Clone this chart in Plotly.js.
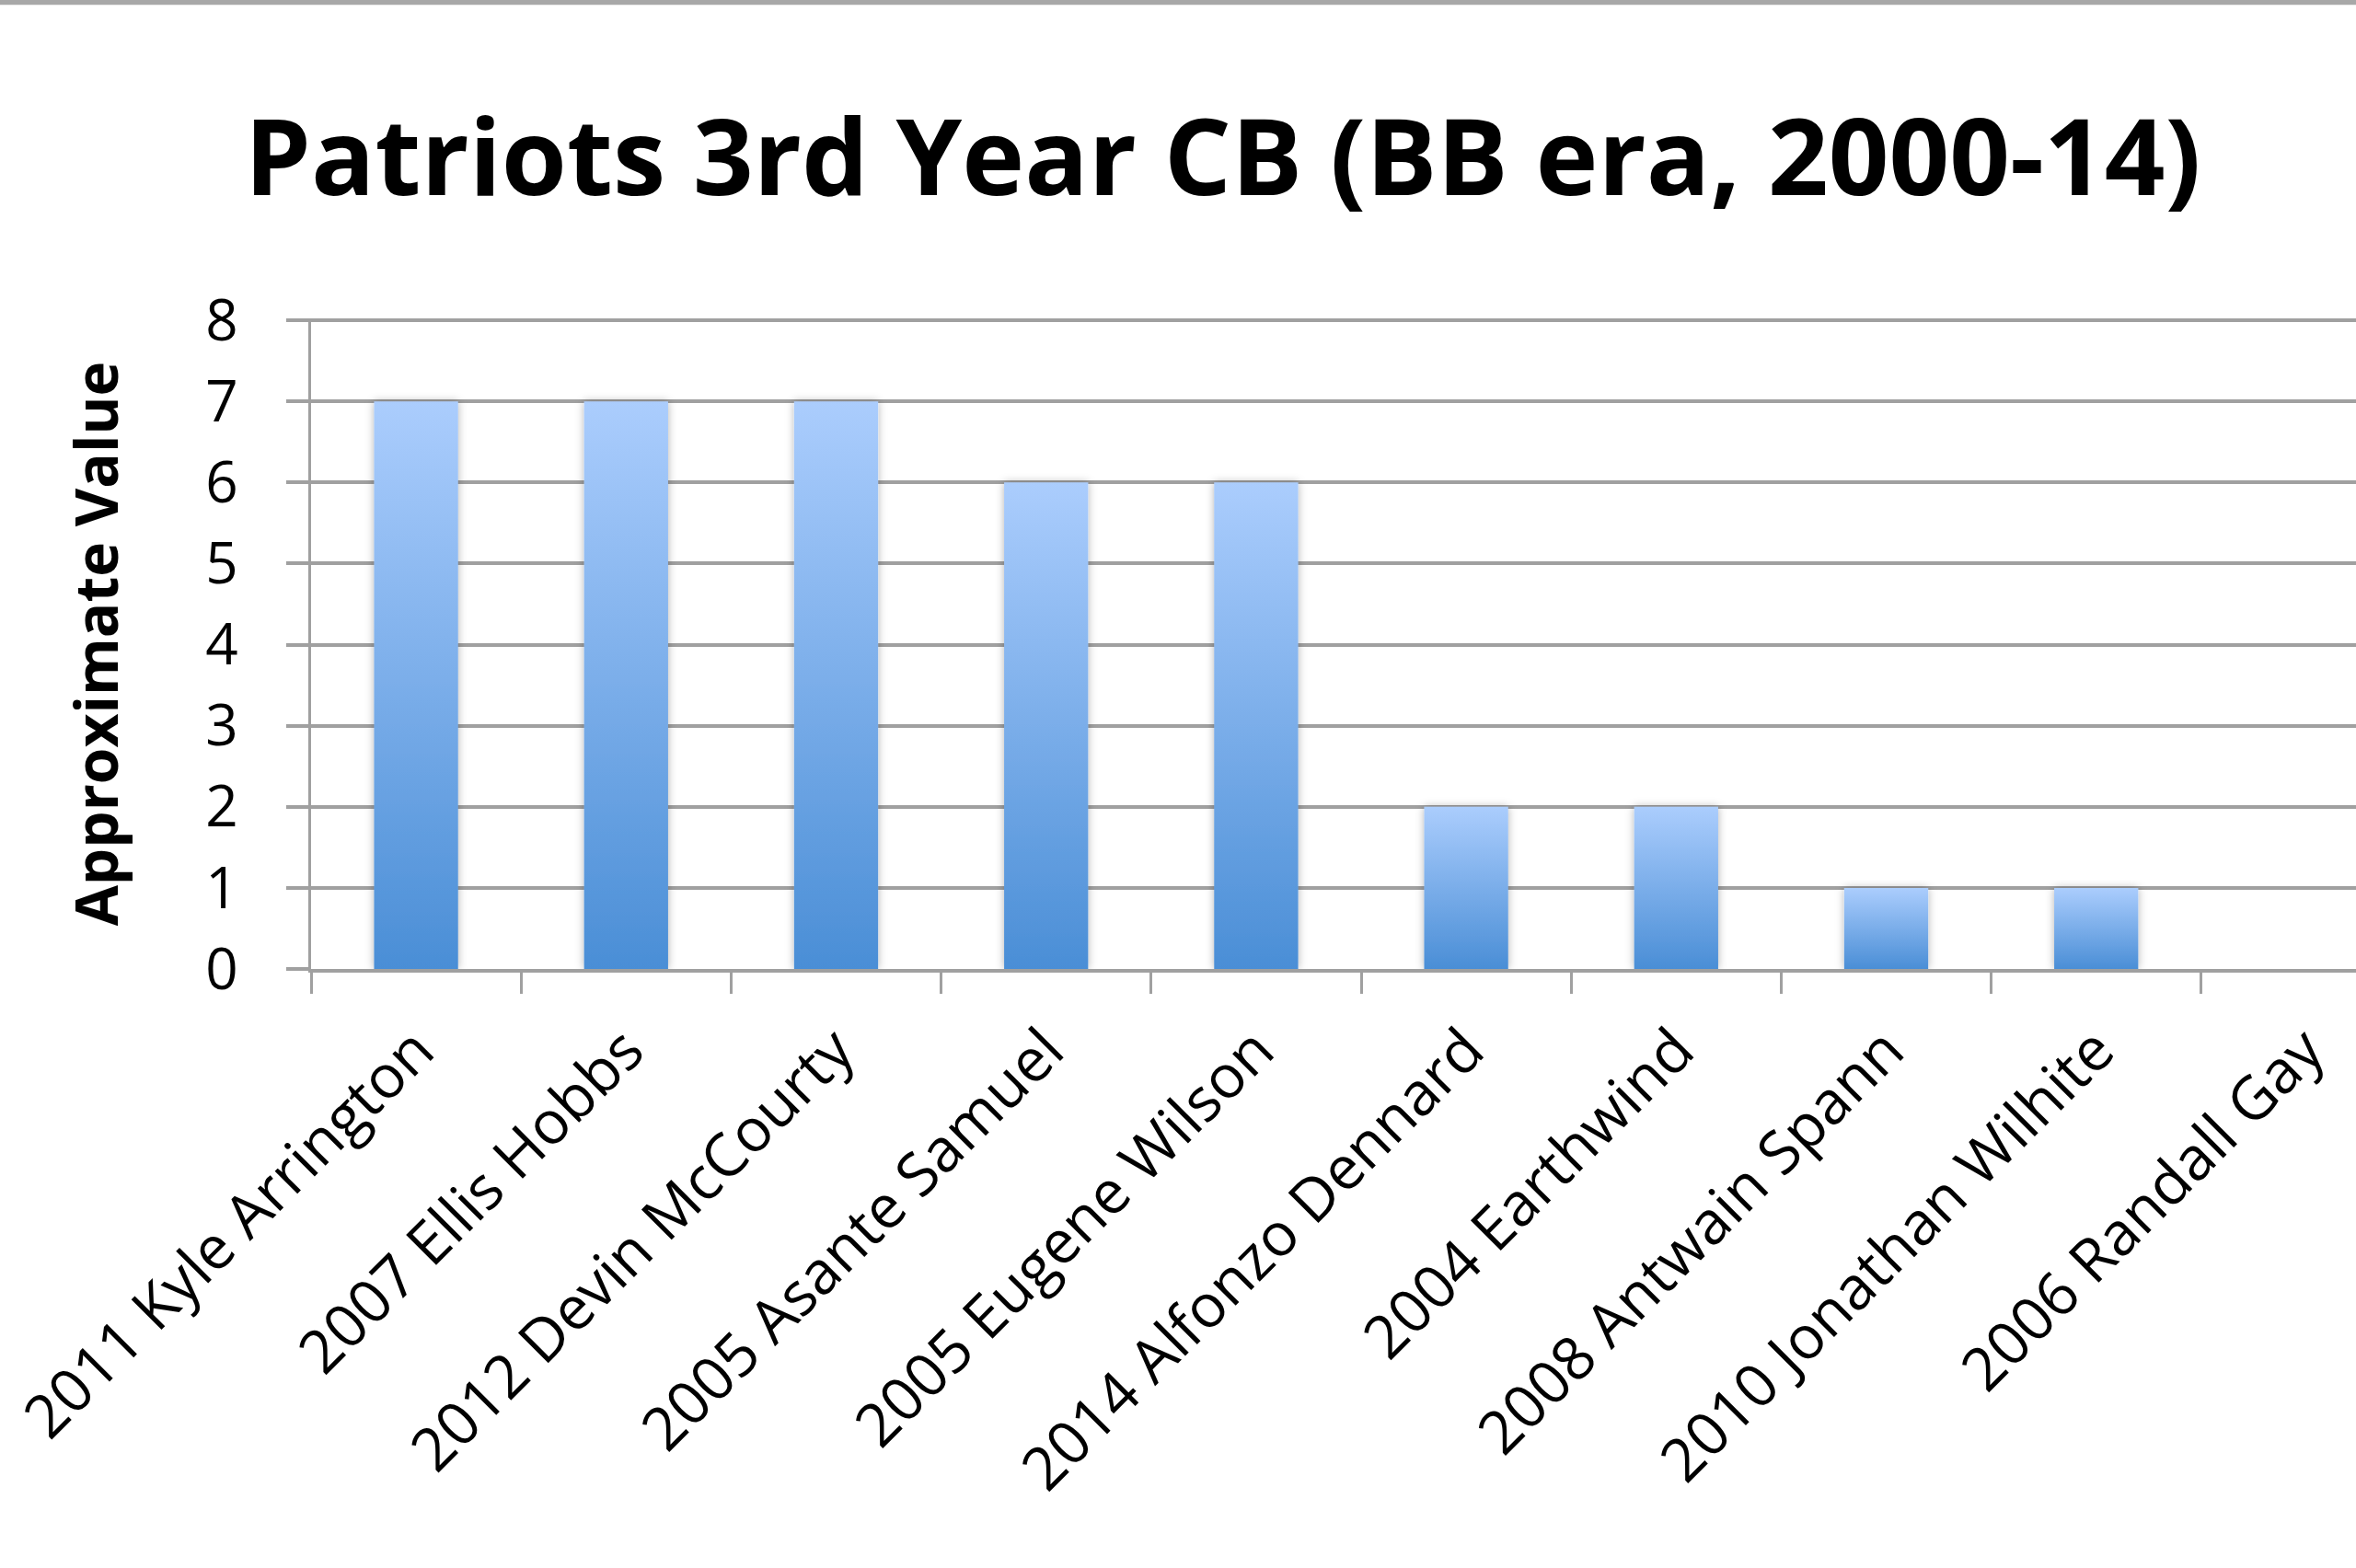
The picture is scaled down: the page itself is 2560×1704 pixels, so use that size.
<!DOCTYPE html>
<html>
<head>
<meta charset="utf-8">
<script src="https://cdn.plot.ly/plotly-3.0.1.min.js"></script>
<style>
  html, body { margin: 0; padding: 0; background: #fff; }
  #chart { width: 2560px; height: 1704px; }
</style>
</head>
<body>
<div id="chart"></div>
<script>
// player seasons, sorted by approximate value
var players = [
  '2011 Kyle Arrington',
  '2007 Ellis Hobbs',
  '2012 Devin McCourty',
  '2005 Asante Samuel',
  '2005 Eugene Wilson',
  '2014 Alfonzo Dennard',
  '2004 Earthwind',
  '2008 Antwain Spann',
  '2010 Jonathan Wilhite',
  '2006 Randall Gay'
];
var approxValue = [7, 7, 7, 6, 6, 2, 2, 1, 1, 0];
var yTicks = [0, 1, 2, 3, 4, 5, 6, 7, 8];

var CHART = document.getElementById('chart');
var grid = '#a0a0a0';

var trace = {
  x: players,
  y: approxValue,
  type: 'bar',
  width: 0.4,
  marker: { color: '#78aee8', line: { width: 0 } },
  hoverinfo: 'none'
};

var layout = {
  width: 2560,
  height: 1704,
  margin: { l: 338, r: 0, t: 346, b: 651 },
  paper_bgcolor: '#ffffff',
  plot_bgcolor: '#ffffff',
  showlegend: false,
  font: { family: '"Open Sans", sans-serif', color: '#000' },
  title: {
    text: '<b>Patriots 3rd Year CB (BB era, 2000-14)</b>',
    font: { family: '"Open Sans", sans-serif', size: 115, color: '#000' },
    x: 0.519,
    xanchor: 'center',
    xref: 'container',
    yref: 'container',
    y: 0.899,
    yanchor: 'middle'
  },
  xaxis: {
    type: 'category',
    range: [-0.5, 9.237],
    tickangle: -45,
    ticks: 'outside',
    tickson: 'boundaries',
    ticklen: 23,
    tickwidth: 3,
    tickcolor: grid,
    showgrid: false,
    showline: true,
    linecolor: grid,
    linewidth: 4,
    zeroline: false,
    ticklabelstandoff: 20,
    tickfont: { family: '"Open Sans", sans-serif', size: 65, color: '#000' },
    automargin: false
  },
  yaxis: {
    // a hair above 8 so the top gridline is not clipped away
    range: [0, 8.0227],
    tickvals: yTicks,
    ticks: 'outside',
    ticklen: 24,
    tickwidth: 4,
    tickcolor: grid,
    showgrid: true,
    gridcolor: grid,
    gridwidth: 4,
    showline: true,
    linecolor: grid,
    linewidth: 3,
    zeroline: false,
    ticklabelstandoff: 40,
    tickfont: { family: '"Open Sans", sans-serif', size: 62, color: '#000' },
    title: {
      text: '<b>Approximate Value</b>',
      font: { family: '"Open Sans", sans-serif', size: 64, color: '#000' },
      standoff: 74
    },
    automargin: false
  },
  // thin grey frame edge along the top of the picture
  shapes: [{
    type: 'rect', xref: 'paper', yref: 'paper',
    x0: -1, x1: 2, y0: 1.482, y1: 1.51,
    line: { width: 0 }, fillcolor: '#a8a8a8'
  }]
};

Plotly.newPlot(CHART, [trace], layout, { staticPlot: true }).then(function () {
  // Excel-style vertical gradient and soft shadow on the bars
  var svg = CHART.querySelector('.main-svg');
  var ns = 'http://www.w3.org/2000/svg';
  var defs = svg.querySelector('defs') || svg.insertBefore(document.createElementNS(ns, 'defs'), svg.firstChild);
  defs.insertAdjacentHTML('beforeend',
    '<linearGradient id="barGrad" x1="0" y1="0" x2="0" y2="1">' +
      '<stop offset="0" stop-color="#abcdfd"/>' +
      '<stop offset="1" stop-color="#4a8ed6"/>' +
    '</linearGradient>' +
    '<filter id="barShadow" x="-30%" y="-10%" width="160%" height="120%">' +
      '<feDropShadow dx="0" dy="0" stdDeviation="5" flood-color="#000" flood-opacity="0.3"/>' +
    '</filter>');
  CHART.querySelectorAll('.barlayer .point path').forEach(function (p) {
    p.style.fill = 'url(#barGrad)';
    p.setAttribute('filter', 'url(#barShadow)');
  });
});
</script>
</body>
</html>
